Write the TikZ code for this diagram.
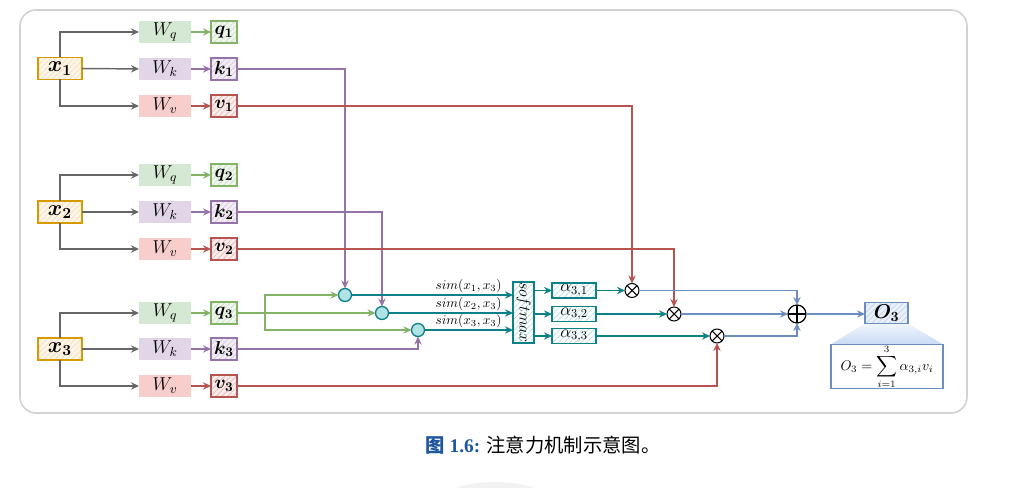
\RequirePackage{fix-cm}
\documentclass[tikz,border=0pt]{standalone}
\usepackage{amsmath,bm}
\usepackage{fontspec}
\newfontfamily\cjk{Noto Sans CJK SC}
\newfontfamily\capserif{Liberation Serif}
\usetikzlibrary{arrows.meta,patterns.meta,backgrounds,calc}
\definecolor{oD}{HTML}{D79B00}\definecolor{oL}{HTML}{FFE6CC}
\definecolor{gD}{HTML}{82B366}\definecolor{gL}{HTML}{D5E8D4}
\definecolor{pD}{HTML}{9673A6}\definecolor{pL}{HTML}{E1D5E7}
\definecolor{rD}{HTML}{B85450}\definecolor{rL}{HTML}{F8CECC}
\definecolor{tD}{HTML}{0E8088}\definecolor{tL}{HTML}{B0E3E6}
\definecolor{bD}{HTML}{6C8EBF}\definecolor{bL}{HTML}{DAE8FC}
\definecolor{aG}{HTML}{666666}
\definecolor{capblue}{RGB}{31,86,160}
\tikzset{
  base/.style={inner sep=0pt, outer sep=0pt},
  hatch/.style 2 args={preaction={fill=#1}, pattern={Lines[angle=45,distance=3pt,line width=0.5pt]}, pattern color=#2},
  xbox/.style={base, draw=oD, line width=1.1pt, hatch={oL!40}{oD!30}, minimum width=33pt, minimum height=16.5pt, font=\fontsize{16.5}{18}\selectfont},
  wbox/.style={base, minimum width=39pt, minimum height=16.5pt, font=\fontsize{14}{16}\selectfont},
  vbox/.style={base, line width=1.1pt, minimum width=19.5pt, minimum height=16.5pt, font=\fontsize{14}{16}\selectfont},
  qb/.style={vbox, draw=gD, hatch={gL!40}{gD!40}},
  kb/.style={vbox, draw=pD, hatch={pL!40}{pD!40}},
  vb/.style={vbox, draw=rD, hatch={rL!40}{rD!40}},
  smbox/.style={base, draw=tD, line width=1.1pt, hatch={white}{tL}, minimum width=15.75pt, minimum height=45.75pt},
  abox/.style={base, draw=tD, line width=1.1pt, hatch={white}{tL}, minimum width=33pt, minimum height=11pt, font=\fontsize{13}{14}\selectfont},
  dot/.style={base, circle, draw=tD, fill=tL, line width=1pt, minimum size=9.75pt},
  mul/.style={base, circle, draw=black, fill=white, line width=0.8pt, minimum size=10.5pt},
  plusn/.style={base, circle, draw=black, fill=white, line width=0.9pt, minimum size=13.5pt},
  obox/.style={base, draw=bD, line width=1.1pt, hatch={bL!60}{bD!40}, minimum width=32.25pt, minimum height=15.75pt, font=\fontsize{15}{17}\selectfont},
  fbox/.style={base, draw=bD, line width=1.1pt, fill=white, minimum width=84pt, minimum height=32.25pt, font=\fontsize{10.5}{12}\selectfont},
  simlbl/.style={inner sep=1pt, text=black, font=\fontsize{10}{11}\selectfont},
  ln/.style={line width=1.1pt},
  arr/.style={line width=1.1pt, -{Stealth[length=6pt,width=5.5pt]}},
}
\begin{document}
\begin{tikzpicture}[x=0.75pt,y=-0.75pt]
\useasboundingbox (0,0) rectangle (1010,488);
% ---------- group 1
\node[xbox] (x1) at (60,68.5) {$\bm{x_1}$};
\node[wbox, fill=gL] (wq1) at (165,32) {$W_q$};
\node[wbox, fill=pL] (wk1) at (165,69) {$W_k$};
\node[wbox, fill=rL] (wv1) at (165,106) {$W_v$};
\node[qb] (q1) at (224,32) {$\bm{q_1}$};
\node[kb] (k1) at (224,69) {$\bm{k_1}$};
\node[vb] (v1) at (224,106) {$\bm{v_1}$};
% ---------- group 2
\node[xbox] (x2) at (60,212) {$\bm{x_2}$};
\node[wbox, fill=gL] (wq2) at (165,175) {$W_q$};
\node[wbox, fill=pL] (wk2) at (165,212) {$W_k$};
\node[wbox, fill=rL] (wv2) at (165,249) {$W_v$};
\node[qb] (q2) at (224,175) {$\bm{q_2}$};
\node[kb] (k2) at (224,212) {$\bm{k_2}$};
\node[vb] (v2) at (224,249) {$\bm{v_2}$};
% ---------- group 3
\node[xbox] (x3) at (60,349) {$\bm{x_3}$};
\node[wbox, fill=gL] (wq3) at (165,313) {$W_q$};
\node[wbox, fill=pL] (wk3) at (165,349) {$W_k$};
\node[wbox, fill=rL] (wv3) at (165,386) {$W_v$};
\node[qb] (q3) at (224,313) {$\bm{q_3}$};
\node[kb] (k3) at (224,349) {$\bm{k_3}$};
\node[vb] (v3) at (224,386) {$\bm{v_3}$};
% ---------- attention part
\node[dot] (c1) at (345,295) {};
\node[dot] (c2) at (382,313) {};
\node[dot] (c3) at (418,330) {};
\coordinate (qs) at (265,313);
\node[smbox] (sm) at (523.5,312.5) {};
\node[rotate=-90, font=\fontsize{12}{13}\selectfont] (smt) at (sm) {$softmax$};
\node[abox] (a1) at (574,290.5) {$\alpha_{3,1}$};
\node[abox] (a2) at (574,314) {$\alpha_{3,2}$};
\node[abox] (a3) at (574,336) {$\alpha_{3,3}$};
\node[mul] (m1) at (632,290.5) {};
\node[mul] (m2) at (674,314) {};
\node[mul] (m3) at (717,336) {};
\node[plusn] (pl) at (797,314) {};
\node[obox] (o3) at (886.5,313) {$\bm{O_3}$};
\node[fbox] (f) at (887,366.5) {$O_3=\displaystyle\sum_{i=1}^{3}\alpha_{3,i}v_i$};
% crosses
\foreach \m in {m1,m2,m3}{
  \draw[line width=0.8pt] (\m.north east) -- (\m.south west) (\m.north west) -- (\m.south east);}
\draw[line width=0.9pt] (pl.north) -- (pl.south) (pl.west) -- (pl.east);
% ---------- caption
\node[font=\fontsize{14.5}{17}\selectfont, inner sep=0pt] (cap) at (543,445)
  {{\color{capblue}\cjk\bfseries 图\capserif\bfseries\ 1.6:}\ \cjk 注意力机制示意图。};
% ---------- gray input arrows
\foreach \i in {1,2,3}{
  \draw[arr, aG] (x\i.north) |- (wq\i);
  \draw[arr, aG] (x\i) -- (wk\i);
  \draw[arr, aG] (x\i.south) |- (wv\i);
  \draw[arr, gD] (wq\i) -- (q\i);
  \draw[arr, pD] (wk\i) -- (k\i);
  \draw[arr, rD] (wv\i) -- (v\i);
}
% keys
\draw[arr, pD] (k1) -| (c1);
\draw[arr, pD] (k2) -| (c2);
\draw[arr, pD] (k3) -| (c3);
% values
\draw[arr, rD] (v1) -| (m1);
\draw[arr, rD] (v2) -| (m2);
\draw[arr, rD] (v3) -| (m3);
% query 3
\draw[ln, gD] (q3) -- (qs);
\draw[arr, gD] (qs) |- (c1);
\draw[arr, gD] (qs) -- (c2);
\draw[arr, gD] (qs) |- (c3);
% similarities
\draw[arr, tD] (c1) -- (c1 -| sm.west) node[simlbl, pos=1, anchor=south east, xshift=-7pt] (s1) {$sim(x_1,x_3)$};
\draw[arr, tD] (c2) -- (c2 -| sm.west) node[simlbl, pos=1, anchor=south east, xshift=-7pt] (s2) {$sim(x_2,x_3)$};
\draw[arr, tD] (c3) -- (c3 -| sm.west) node[simlbl, pos=1, anchor=south east, xshift=-7pt] (s3) {$sim(x_3,x_3)$};
\draw[arr, tD] (sm.east |- a1) -- (a1);
\draw[arr, tD] (sm.east |- a2) -- (a2);
\draw[arr, tD] (sm.east |- a3) -- (a3);
\draw[arr, tD] (a1) -- (m1);
\draw[arr, tD] (a2) -- (m2);
\draw[arr, tD] (a3) -- (m3);
% sum
\draw[arr, bD] (m1) -| (pl);
\draw[arr, bD] (m2) -- (pl);
\draw[arr, bD] (m3) -| (pl);
\draw[arr, bD] (pl) -- (pl -| o3.west);
% ---------- background
\begin{pgfonlayer}{background}
  \fill[gray!10] (495,502) ellipse[x radius=55, y radius=20];
  \draw[gray!35, line width=1.2pt, rounded corners=12pt] (20,10) rectangle (967,413);
  \shade[top color=bL!40, bottom color=bL!85!bD] (o3.south west) -- (o3.south east) -- (f.north east) -- (f.north west) -- cycle;
\end{pgfonlayer}
\end{tikzpicture}
\end{document}
